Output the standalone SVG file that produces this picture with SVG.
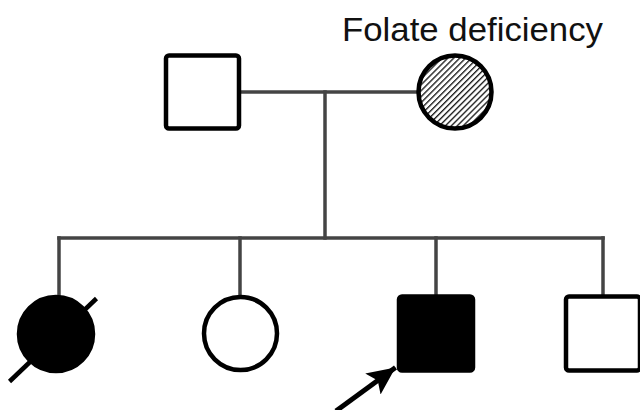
<svg xmlns="http://www.w3.org/2000/svg" width="640" height="410" viewBox="0 0 640 410">
<style>
.line{stroke:#444;stroke-width:3.5;fill:none;stroke-linecap:square}
.open{fill:#fff;stroke:#000;stroke-width:4.5}
.filled{fill:#000;stroke:#000;stroke-width:4.5}
.label{font-family:"Liberation Sans",Arial,sans-serif;font-size:32.5px;fill:#111}
</style>
<defs>
<pattern id="hatch" patternUnits="userSpaceOnUse" width="4.2" height="4.2" patternTransform="rotate(45)">
<rect width="4.2" height="4.2" fill="#fff"/>
<line x1="0.7" y1="0" x2="0.7" y2="4.2" stroke="#000" stroke-width="1.2"/>
</pattern>
<marker id="arrow" markerUnits="userSpaceOnUse" markerWidth="30" markerHeight="26" refX="28" refY="13" orient="auto">
<path d="M0,0 L28,13 L0,26 L6,13 Z" fill="#000"/>
</marker>
</defs>
<rect width="640" height="410" fill="#fff"/>
<g id="connectors">
<line class="line" x1="241" y1="92" x2="418" y2="92"/>
<line class="line" x1="325" y1="92" x2="325" y2="238"/>
<line class="line" x1="59" y1="238" x2="603" y2="238"/>
<line class="line" x1="59" y1="238" x2="59" y2="295"/>
<line class="line" x1="240" y1="238" x2="240" y2="296"/>
<line class="line" x1="436" y1="238" x2="436" y2="294"/>
<line class="line" x1="603" y1="238" x2="603" y2="294"/>
</g>
<g id="father">
<rect class="open" x="166" y="55.5" width="73" height="73" rx="3"/>
</g>
<g id="mother">
<circle cx="455" cy="92" r="36.5" fill="url(#hatch)" stroke="#000" stroke-width="4.5"/>
<text class="label" x="342" y="41" textLength="261" lengthAdjust="spacingAndGlyphs">Folate deficiency</text>
</g>
<g id="child1">
<circle class="filled" cx="56" cy="334" r="37"/>
<line x1="9.5" y1="381.5" x2="96.5" y2="298.5" stroke="#000" stroke-width="4.5"/>
</g>
<g id="child2">
<circle class="open" cx="240.5" cy="333.5" r="36.5"/>
</g>
<g id="child3">
<rect class="filled" x="399" y="296.5" width="74" height="74" rx="3"/>
<line x1="336" y1="411" x2="395.5" y2="367.5" stroke="#000" stroke-width="5" marker-end="url(#arrow)"/>
</g>
<g id="child4">
<rect class="open" x="566" y="296.5" width="74" height="74" rx="3"/>
</g>
</svg>
